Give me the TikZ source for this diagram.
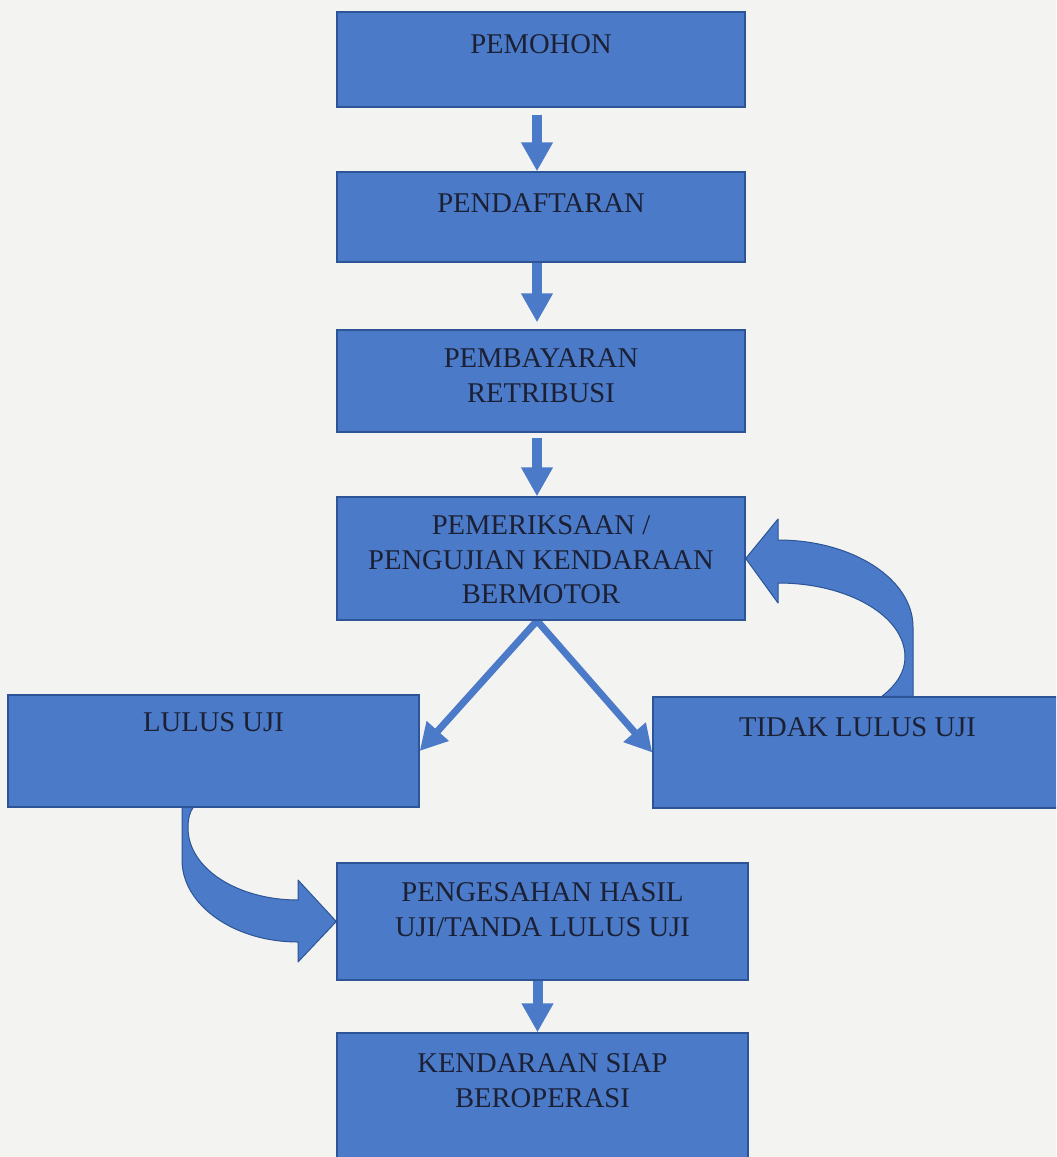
\documentclass[tikz,border=0pt]{standalone}
\usepackage{fontspec}
\setmainfont{Liberation Serif}
\usetikzlibrary{arrows.meta}
\definecolor{bgcol}{RGB}{243,243,241}
\definecolor{boxfill}{RGB}{74,122,200}
\definecolor{boxline}{RGB}{44,84,150}
\definecolor{txt}{RGB}{28,32,52}
\newcommand{\bt}[4]{\parbox[t][#1][t]{#2}{\centering\rule{0pt}{#3}#4}}
\pgfdeclarelayer{backlayer}
\pgfdeclarelayer{arrowlayer}
\pgfsetlayers{backlayer,arrowlayer,main}
\begin{document}
\begin{tikzpicture}[x=0.5pt,y=-0.5pt,
  box/.style={draw=boxline, fill=boxfill, line width=0.7pt, inner sep=0pt, text=txt,
    font=\fontsize{14.3pt}{17.3pt}\selectfont},
  varrow/.style={draw=boxfill, line width=5pt, -{Triangle[length=14.5pt,width=15pt]}},
  darrow/.style={draw=boxfill, line width=3.5pt, -{Triangle[length=13.5pt,width=14pt]}},
  blockarrow/.style={fill=boxfill, draw=boxline, line width=0.5pt, line join=round}]
\begin{pgfonlayer}{backlayer}
  \fill[bgcol] (0,0) rectangle (1056,1157);
\end{pgfonlayer}
\useasboundingbox (0,0) rectangle (1056,1157);
\clip (0,0) rectangle (1056,1157);

\node[box] (p1) at (541,59.5) {\bt{47.5pt}{204pt}{20.5pt}{PEMOHON}};
\node[box] (p2) at (541,217) {\bt{45pt}{204pt}{20pt}{PENDAFTARAN}};
\node[box] (p3) at (541,381) {\bt{51pt}{204pt}{18.75pt}{PEMBAYARAN\\RETRIBUSI}};
\node[box] (p4) at (541,558.5) {\bt{61.5pt}{204pt}{18.75pt}{PEMERIKSAAN /\\PENGUJIAN KENDARAAN\\BERMOTOR}};
\node[box] (lulus) at (213.5,751) {\bt{56pt}{205.5pt}{18.25pt}{LULUS UJI}};
\node[box] (tidak) at (857.5,752.5) {\bt{55.5pt}{204.5pt}{19.75pt}{TIDAK LULUS UJI}};
\node[box] (p7) at (542.5,921.5) {\bt{58.5pt}{205.5pt}{19.25pt}{PENGESAHAN HASIL\\UJI/TANDA LULUS UJI}};
\node[box] (p8) at (542.5,1099) {\bt{66pt}{205.5pt}{19.75pt}{KENDARAAN SIAP\\BEROPERASI}};

\begin{pgfonlayer}{arrowlayer}
  \draw[varrow, shorten <=3.5pt] ([xshift=-2pt]p1.south) -- ([xshift=-2pt]p2.north);
  \draw[varrow, shorten >=3.5pt] ([xshift=-2pt]p2.south) -- ([xshift=-2pt]p3.north);
  \draw[varrow, shorten <=2.5pt] ([xshift=-2pt]p3.south) -- ([xshift=-2pt]p4.north);
  \draw[varrow] ([xshift=-2.5pt]p7.south) -- ([xshift=-2.5pt]p8.north);
  \draw[darrow] ([xshift=-2pt]p4.south) -- (lulus.east);
  \draw[darrow] ([xshift=-2pt]p4.south) -- (tidak.west);
  % TIDAK LULUS UJI back to PEMERIKSAAN
  \path[blockarrow] (p4.east) -- (778,519) -- (778,540)
    .. controls (852.5,540) and (913,579) .. (913,627)
    -- (913,0 |- tidak.north) -- (882,0 |- tidak.north)
    .. controls (897,684) and (905,672) .. (905,657)
    .. controls (905,616) and (848,583) .. (778,583)
    -- (778,603) -- cycle;
  % LULUS UJI to PENGESAHAN
  \path[blockarrow] (182,0 |- lulus.south) -- (182,860)
    .. controls (182,905) and (234,942) .. (298,942)
    -- (298,962) -- (p7.west) -- (298,880) -- (298,900)
    .. controls (237,900) and (188,868) .. (188,828)
    .. controls (188,818) and (190,812) .. (193,0 |- lulus.south)
    -- cycle;
\end{pgfonlayer}
\end{tikzpicture}
\end{document}
